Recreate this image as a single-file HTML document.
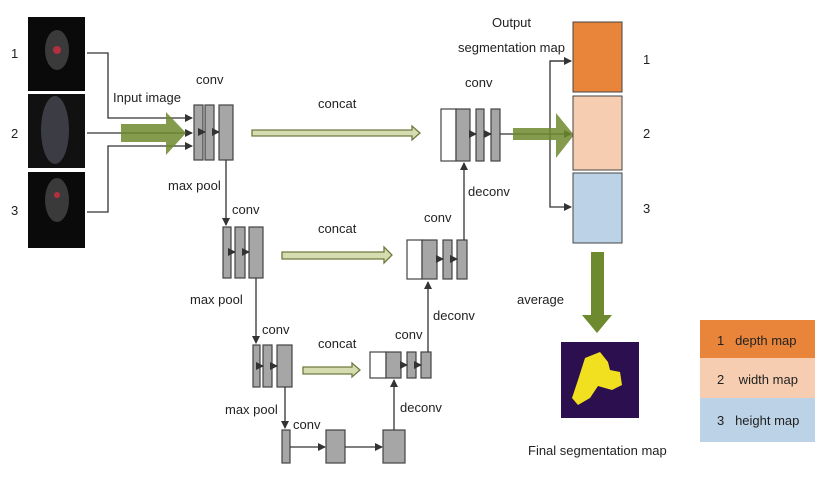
<!DOCTYPE html>
<html><head><style>body{margin:0;background:#fff}svg{display:block}text{font-family:"Liberation Sans",sans-serif;font-size:13px;fill:#222;white-space:pre}</style></head><body>
<svg width="820" height="481" viewBox="0 0 820 481" xmlns="http://www.w3.org/2000/svg">
<defs><marker id="a" markerWidth="8" markerHeight="8" refX="7" refY="4" orient="auto" markerUnits="userSpaceOnUse"><path d="M0,0L8,4L0,8z" fill="#333"/></marker></defs>
<g stroke="#333" stroke-width="1.3" fill="none">
<path d="M87,53H108V118H192" marker-end="url(#a)"/>
<path d="M87,133H192" marker-end="url(#a)"/>
<path d="M87,212H108V146H192" marker-end="url(#a)"/>
</g>
<rect x="28" y="17" width="57" height="74" fill="#0a0a0a"/>
<rect x="28" y="94" width="57" height="74" fill="#111"/>
<rect x="28" y="172" width="57" height="76" fill="#0a0a0a"/>
<ellipse cx="57" cy="50" rx="12" ry="20" fill="#3a3a3a"/><circle cx="57" cy="50" r="4" fill="#b03040"/>
<ellipse cx="55" cy="130" rx="14" ry="34" fill="#3c3c44"/>
<ellipse cx="57" cy="200" rx="12" ry="22" fill="#3a3a3a"/><circle cx="57" cy="195" r="3" fill="#b03040"/>
<text x="11" y="58">1</text><text x="11" y="138">2</text><text x="11" y="215">3</text>
<path d="M121,124H166V112L186,133L166,155V142H121z" fill="#6e8a2e" opacity="0.85"/>
<g stroke="#444" fill="#a6a6a6" stroke-width="1.2">
<rect x="194" y="105" width="9" height="55"/><rect x="205" y="105" width="9" height="55"/><rect x="219" y="105" width="14" height="55"/>
<rect x="223" y="227" width="8" height="51"/><rect x="235" y="227" width="10" height="51"/><rect x="249" y="227" width="14" height="51"/>
<rect x="253" y="345" width="7" height="42"/><rect x="263" y="345" width="9" height="42"/><rect x="277" y="345" width="15" height="42"/>
<rect x="282" y="430" width="8" height="33"/><rect x="326" y="430" width="19" height="33"/><rect x="383" y="430" width="22" height="33"/>
<rect x="370" y="352" width="16" height="26" fill="#fff"/><rect x="386" y="352" width="15" height="26"/><rect x="407" y="352" width="9" height="26"/><rect x="421" y="352" width="10" height="26"/>
<rect x="407" y="240" width="15" height="39" fill="#fff"/><rect x="422" y="240" width="15" height="39"/><rect x="443" y="240" width="9" height="39"/><rect x="457" y="240" width="10" height="39"/>
<rect x="441" y="109" width="15" height="52" fill="#fff"/><rect x="456" y="109" width="14" height="52"/><rect x="476" y="109" width="8" height="52"/><rect x="491" y="109" width="9" height="52"/>
</g>
<g stroke="#333" stroke-width="1.3" fill="none">
<path d="M203,132H205" marker-end="url(#a)"/><path d="M214,132H219" marker-end="url(#a)"/>
<path d="M231,252H235" marker-end="url(#a)"/><path d="M245,252H249" marker-end="url(#a)"/>
<path d="M260,366H263" marker-end="url(#a)"/><path d="M272,366H277" marker-end="url(#a)"/>
<path d="M226,160V225" marker-end="url(#a)"/>
<path d="M256,278V343" marker-end="url(#a)"/>
<path d="M285,387V428" marker-end="url(#a)"/>
<path d="M290,447H325" marker-end="url(#a)"/><path d="M345,447H382" marker-end="url(#a)"/>
<path d="M394,430V380" marker-end="url(#a)"/>
<path d="M428,352V282" marker-end="url(#a)"/>
<path d="M464,240V163" marker-end="url(#a)"/>
<path d="M401,365H407" marker-end="url(#a)"/><path d="M416,365H421" marker-end="url(#a)"/>
<path d="M437,259H443" marker-end="url(#a)"/><path d="M452,259H457" marker-end="url(#a)"/>
<path d="M470,134H476" marker-end="url(#a)"/><path d="M484,134H491" marker-end="url(#a)"/>
<path d="M500,134H571" marker-end="url(#a)"/>
<path d="M571,61H550V207H571" marker-end="url(#a)"/>
<path d="M550,61H571" marker-end="url(#a)"/>
</g>
<g fill="#d6dcb0" stroke="#6e7a40" stroke-width="1.3">
<path d="M252,130H412V126L420,133L412,140V136H252z"/>
<path d="M282,252H384V247L392,255L384,263V259H282z"/>
<path d="M303,367H352V363L360,370L352,377V374H303z"/>
</g>
<path d="M513,128H556V113L574,135L556,158V140H513z" fill="#6e8a2e" opacity="0.85"/>
<rect x="573" y="22" width="49" height="70" fill="#e8853a" stroke="#444"/>
<rect x="573" y="96" width="49" height="74" fill="#f6cdb0" stroke="#444"/>
<rect x="573" y="173" width="49" height="70" fill="#bcd2e6" stroke="#444"/>
<text x="643" y="64">1</text><text x="643" y="138">2</text><text x="643" y="213">3</text>
<path d="M591,252H604V315H612L597,333L582,315H591z" fill="#6e8a2e"/>
<rect x="561" y="342" width="78" height="76" fill="#2c0f4e"/>
<path d="M578,380L585,358L600,352L608,362L610,370L620,372L622,385L612,390L598,386L590,398L578,405L572,398z" fill="#f0e020"/>
<rect x="700" y="320" width="115" height="38" fill="#e8853a"/>
<rect x="700" y="358" width="115" height="40" fill="#f6cdb0"/>
<rect x="700" y="398" width="115" height="44" fill="#bcd2e6"/>
<text x="717" y="345">1   depth map</text>
<text x="717" y="384">2    width map</text>
<text x="717" y="425">3   height map</text>
<text x="196" y="84">conv</text>
<text x="113" y="102">Input image</text>
<text x="168" y="190">max pool</text>
<text x="232" y="214">conv</text>
<text x="318" y="108">concat</text>
<text x="318" y="233">concat</text>
<text x="190" y="304">max pool</text>
<text x="262" y="334">conv</text>
<text x="318" y="348">concat</text>
<text x="225" y="414">max pool</text>
<text x="293" y="429">conv</text>
<text x="400" y="412">deconv</text>
<text x="395" y="339">conv</text>
<text x="433" y="320">deconv</text>
<text x="424" y="222">conv</text>
<text x="468" y="196">deconv</text>
<text x="465" y="87">conv</text>
<text x="492" y="27">Output</text>
<text x="458" y="52">segmentation map</text>
<text x="517" y="304">average</text>
<text x="528" y="455">Final segmentation map</text>
</svg>
</body></html>
